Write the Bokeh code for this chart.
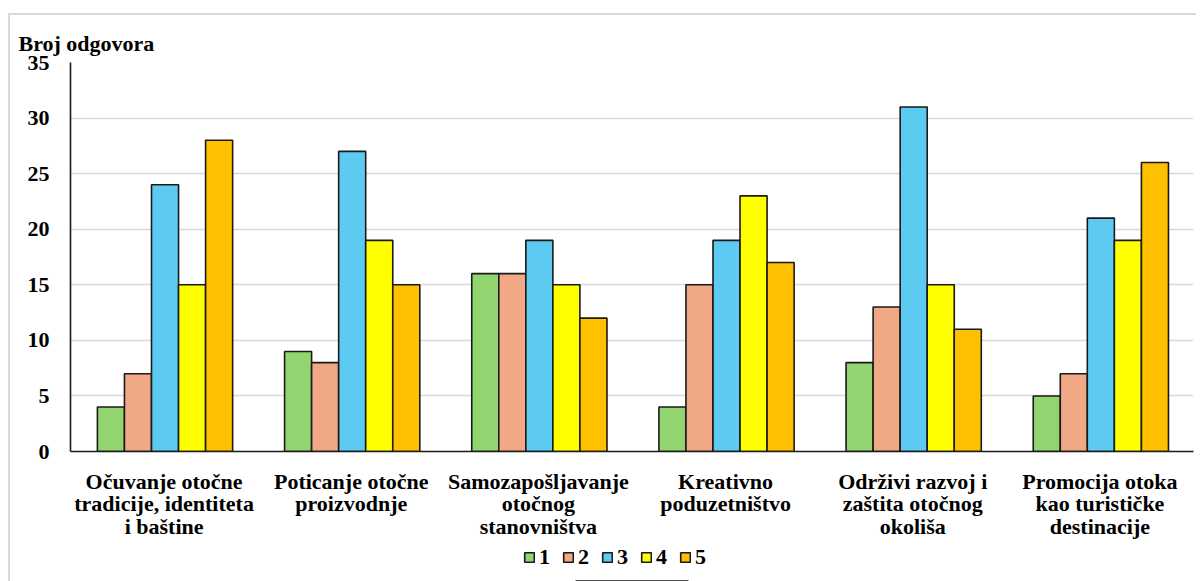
from bokeh.plotting import figure
from bokeh.layouts import column
from bokeh.models import FactorRange, Legend, LegendItem, SingleIntervalTicker
from bokeh.transform import dodge
from bokeh.models import ColumnDataSource
from bokeh.embed import file_html
from bokeh.resources import INLINE

categories = [
    "Očuvanje otočne\ntradicije, identiteta\ni baštine",
    "Poticanje otočne\nproizvodnje",
    "Samozapošljavanje\notočnog\nstanovništva",
    "Kreativno\npoduzetništvo",
    "Održivi razvoj i\nzaštita otočnog\nokoliša",
    "Promocija otoka\nkao turističke\ndestinacije",
]
series_names = ["1", "2", "3", "4", "5"]
s1 = [4, 9, 16, 4, 8, 5]
s2 = [7, 8, 16, 15, 13, 7]
s3 = [24, 27, 19, 19, 31, 21]
s4 = [15, 19, 15, 23, 15, 19]
s5 = [28, 15, 12, 17, 11, 26]
colors = ["#92D46F", "#F0A984", "#5DCAF2", "#FFFF00", "#FFC000"]
y_title = "Broj odgovora"

src = ColumnDataSource(dict(cat=categories, s1=s1, s2=s2, s3=s3, s4=s4, s5=s5))

FONT = "'Liberation Serif', serif"
FS = "22px"
W = 1186

p = figure(
    width=W, height=528,
    x_range=FactorRange(*categories, range_padding=0),
    y_range=(0, 35),
    output_backend="svg", toolbar_location=None,
    min_border_left=60, min_border_right=3, min_border_top=47, min_border_bottom=92,
    title=y_title,
)
p.outline_line_color = None

p.title.text_font = FONT
p.title.text_font_style = "bold"
p.title.text_font_size = FS
p.title.align = "left"
p.title.offset = -52
p.title.standoff = 13
p.title.text_color = "black"

width = 0.1445
offsets = [-2 * width, -width, 0, width, 2 * width]
for i, key in enumerate(["s1", "s2", "s3", "s4", "s5"]):
    p.vbar(x=dodge("cat", offsets[i] + 0.005, range=p.x_range), top=key, width=width,
           source=src, fill_color=colors[i], line_color="#1a1a1a", line_width=1.6)

p.yaxis.ticker = SingleIntervalTicker(interval=5)
p.ygrid.grid_line_color = "#d9d9d9"
p.ygrid.grid_line_width = 1.6
p.xgrid.grid_line_color = None

for ax in (p.xaxis, p.yaxis):
    ax.major_label_text_font = FONT
    ax.major_label_text_font_style = "bold"
    ax.major_label_text_color = "black"
    ax.major_label_text_font_size = FS
    ax.major_tick_line_color = None
    ax.major_tick_out = 0
    ax.major_tick_in = 0
    ax.minor_tick_line_color = None
    ax.axis_line_color = "#1a1a1a"
    ax.axis_line_width = 1.6

p.yaxis.major_label_standoff = 17
p.xaxis.major_label_standoff = 17
p.xaxis.major_label_text_line_height = 0.9

# legend strip below the chart (its sample renderers sit outside the visible range)
lg = figure(width=W, height=38, x_range=(0, 1), y_range=(0, 1),
            output_backend="svg", toolbar_location=None,
            x_axis_type=None, y_axis_type=None, min_border=0)
lg.outline_line_color = None
lg.grid.visible = False
items = []
for i in range(5):
    r = lg.vbar(x=[0.5], top=[-1], bottom=[-2], width=0.1, fill_color=colors[i],
                line_color="#1a1a1a", line_width=1.6)
    items.append(LegendItem(label=series_names[i], renderers=[r]))

legend = Legend(
    items=items, orientation="horizontal", location=(453, 11),
    label_text_font=FONT, label_text_font_style="bold", label_text_font_size=FS,
    label_text_color="black",
    glyph_width=12, glyph_height=12, label_standoff=4, spacing=12, label_width=11,
    background_fill_alpha=0, border_line_color=None, padding=0, margin=0,
)
lg.add_layout(legend, "center")

layout = column(p, lg, spacing=0)
layout.styles = {"margin-left": "8px", "margin-top": "13px",
                 "border-top": "2px solid #d9d9d9", "border-left": "2px solid #d9d9d9"}

open("out.html", "w").write(file_html(layout, INLINE))
